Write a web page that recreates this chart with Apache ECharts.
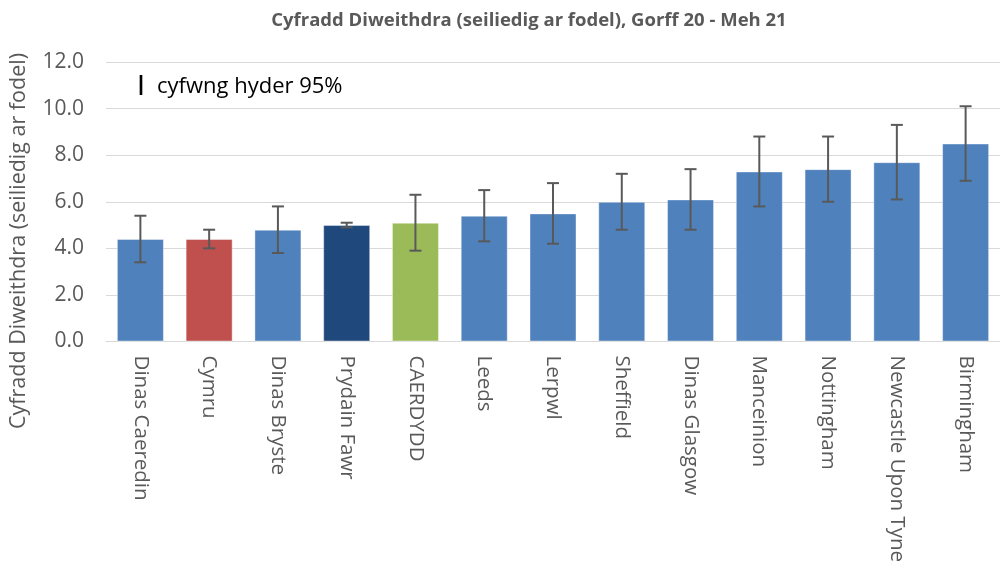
<!DOCTYPE html>
<html>
<head>
<meta charset="utf-8">
<script src="https://cdn.jsdelivr.net/npm/echarts@6/dist/echarts.min.js"></script>
<style>
  html, body { margin: 0; padding: 0; background: #fff; }
  #chart { width: 1000px; height: 565px; }
</style>
</head>
<body>
<div id="chart"></div>
<script>
// 类别与数据
var categories = ['Dinas Caeredin', 'Cymru', 'Dinas Bryste', 'Prydain Fawr', 'CAERDYDD', 'Leeds', 'Lerpwl',
    'Sheffield', 'Dinas Glasgow', 'Manceinion', 'Nottingham', 'Newcastle Upon Tyne', 'Birmingham'];
var rates = [4.4, 4.4, 4.8, 5.0, 5.1, 5.4, 5.5, 6.0, 6.1, 7.3, 7.4, 7.7, 8.5];
var lowerCI = [3.4, 4.0, 3.8, 4.9, 3.9, 4.3, 4.2, 4.8, 4.8, 5.8, 6.0, 6.1, 6.9];
var upperCI = [5.4, 4.8, 5.8, 5.1, 6.3, 6.5, 6.8, 7.2, 7.4, 8.8, 8.8, 9.3, 10.1];
var yTicks = [0, 2, 4, 6, 8, 10, 12];

// 颜色：威尔士红色，英国深蓝，卡迪夫绿色
var barColors = {
    'Cymru': '#C0504D',
    'Prydain Fawr': '#1F497D',
    'CAERDYDD': '#9BBB59'
};

var barData = rates.map(function (v, i) {
    return {
        value: v,
        itemStyle: { color: barColors[categories[i]] || '#4F81BD' }
    };
});

var errData = categories.map(function (c, i) {
    return [i, lowerCI[i], upperCI[i]];
});

var myChart = echarts.init(document.getElementById('chart'));

var option = {
    animation: false,
    textStyle: { fontFamily: 'Open Sans' },
    title: {
        text: 'Cyfradd Diweithdra (seiliedig ar fodel), Gorff 20 - Meh 21',
        left: 524,
        textAlign: 'center',
        top: 6,
        textStyle: {
            fontFamily: 'Open Sans',
            fontSize: 18.5,
            fontWeight: 'bold',
            color: '#595959'
        }
    },
    grid: {
        left: 106,
        right: -10,
        top: 62,
        bottom: 222,
        containLabel: false
    },
    graphic: [
        {
            type: 'text',
            left: 137,
            top: 74,
            style: {
                text: 'I',
                fontFamily: 'DejaVu Sans',
                fontSize: 27,
                fill: '#000'
            }
        },
        {
            type: 'text',
            left: 157,
            top: 76,
            style: {
                text: 'cyfwng hyder 95%',
                fontFamily: 'Open Sans',
                fontSize: 22,
                fill: '#000'
            }
        },
        {
            type: 'text',
            x: 8,
            y: 429,
            rotation: Math.PI / 2,
            style: {
                text: 'Cyfradd Diweithdra (seiliedig ar fodel)',
                fontFamily: 'Open Sans',
                fontSize: 21.5,
                fill: '#595959'
            }
        }
    ],
    xAxis: {
        type: 'category',
        data: categories,
        axisLine: { lineStyle: { color: '#D9D9D9', width: 1 } },
        axisTick: { show: false },
        axisLabel: {
            rotate: -90,
            interval: 0,
            margin: 14,
            fontSize: 20.5,
            color: '#595959'
        }
    },
    yAxis: {
        type: 'value',
        min: yTicks[0],
        max: yTicks[yTicks.length - 1],
        interval: 2,
        axisLine: { show: false },
        axisTick: { show: false },
        splitLine: { lineStyle: { color: '#D9D9D9', width: 1 } },
        axisLabel: {
            margin: 22,
            fontSize: 21,
            color: '#595959',
            formatter: function (v) { return v.toFixed(1); }
        }
    },
    series: [
        {
            type: 'bar',
            data: barData,
            barWidth: 47,
            itemStyle: { borderColor: 'rgba(255,255,255,0.4)', borderWidth: 1 }
        },
        {
            type: 'custom',
            data: errData,
            z: 10,
            renderItem: function (params, api) {
                var x = api.value(0);
                var lo = api.coord([x, api.value(1)]);
                var hi = api.coord([x, api.value(2)]);
                var half = 6;
                var style = { stroke: '#595959', lineWidth: 2 };
                return {
                    type: 'group',
                    children: [
                        { type: 'line', shape: { x1: hi[0], y1: hi[1], x2: lo[0], y2: lo[1] }, style: style },
                        { type: 'line', shape: { x1: hi[0] - half, y1: hi[1], x2: hi[0] + half, y2: hi[1] }, style: style },
                        { type: 'line', shape: { x1: lo[0] - half, y1: lo[1], x2: lo[0] + half, y2: lo[1] }, style: style }
                    ]
                };
            }
        }
    ]
};

myChart.setOption(option);
</script>
</body>
</html>
